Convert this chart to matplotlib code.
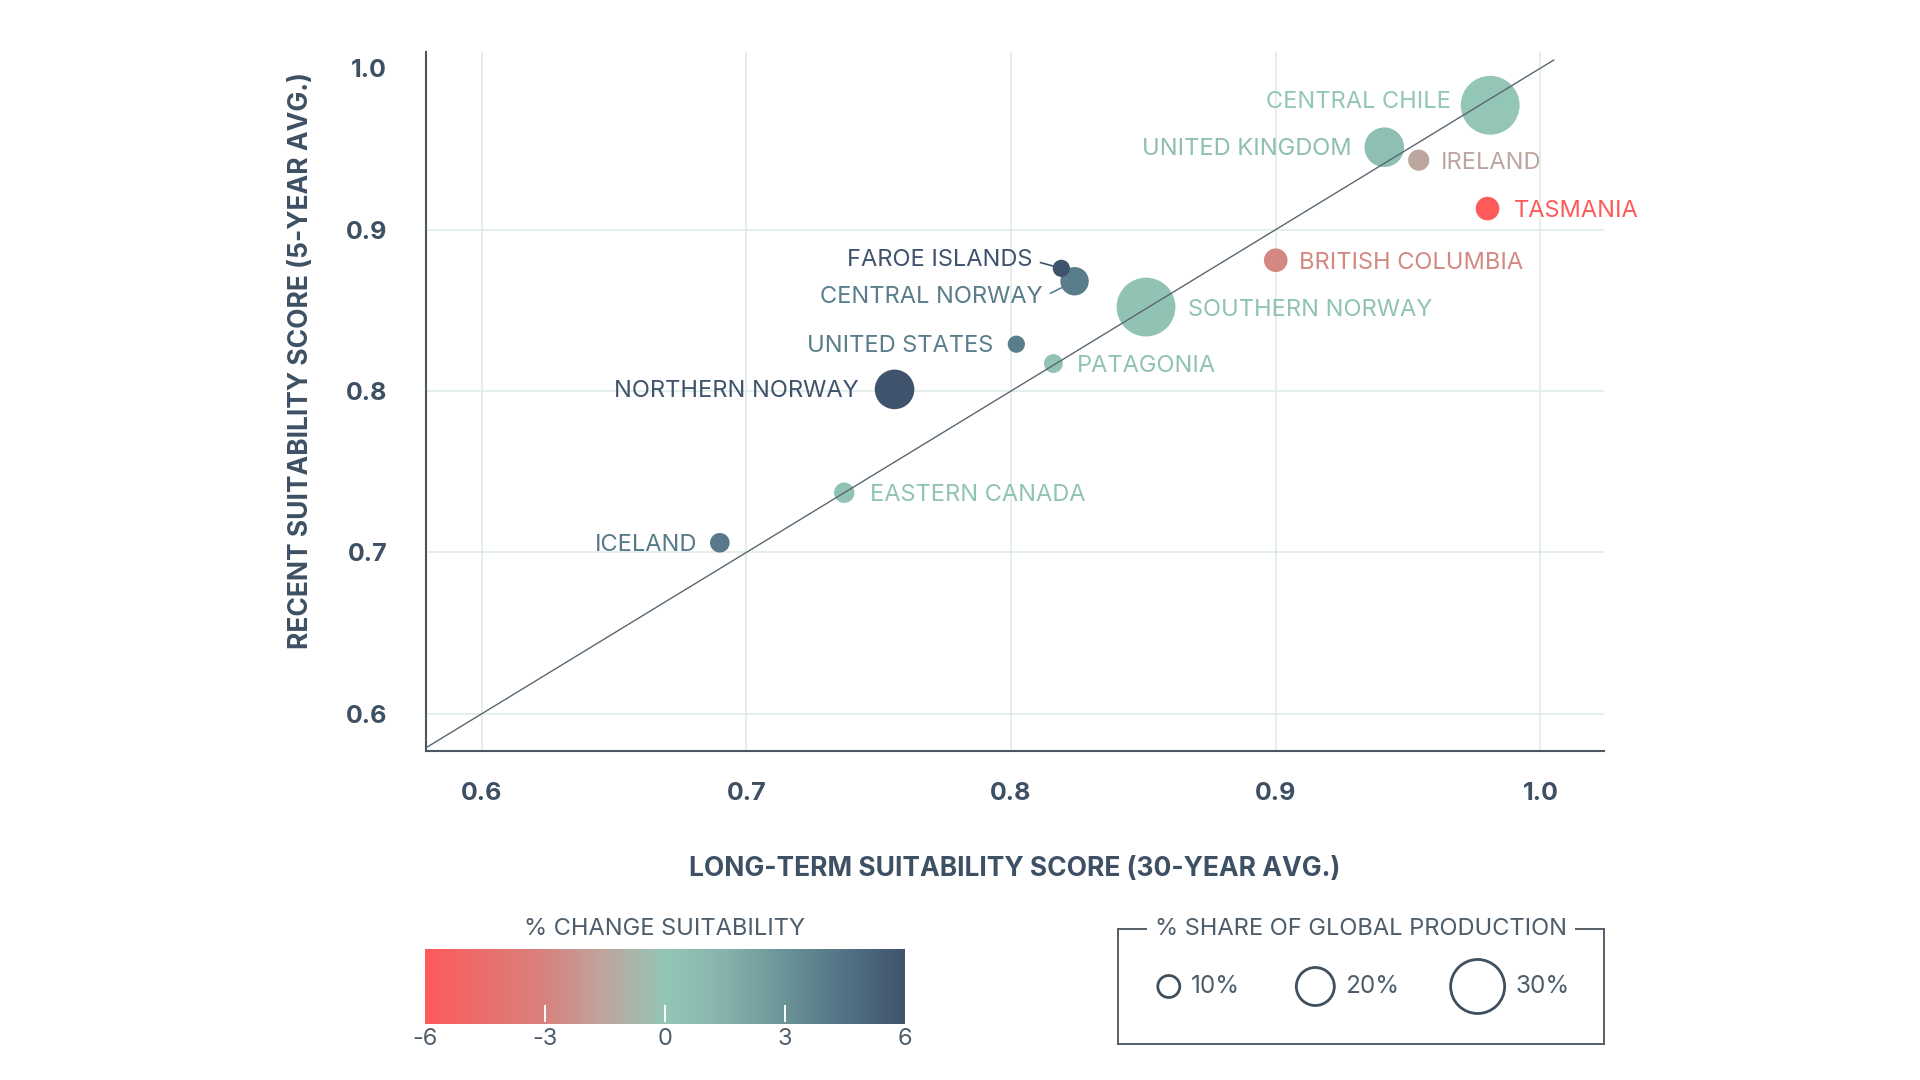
import numpy as np
import matplotlib.pyplot as plt
from matplotlib.colors import LinearSegmentedColormap, Normalize

plt.rcParams['font.family'] = ['Inter', 'DejaVu Sans']

# ---- data ----
regions = ["CENTRAL CHILE", "UNITED KINGDOM", "IRELAND", "TASMANIA", "BRITISH COLUMBIA",
           "SOUTHERN NORWAY", "CENTRAL NORWAY", "FAROE ISLANDS", "UNITED STATES",
           "PATAGONIA", "NORTHERN NORWAY", "EASTERN CANADA", "ICELAND"]
long_term = [0.981, 0.941, 0.954, 0.980, 0.900, 0.851, 0.824, 0.819, 0.802,
             0.816, 0.756, 0.737, 0.690]
recent = [0.977, 0.951, 0.943, 0.913, 0.881, 0.852, 0.868, 0.876, 0.829,
          0.817, 0.801, 0.737, 0.706]
pct_change = [0.0, 0.6, -1.5, -6.0, -2.8, 0.2, 4.0, 6.0, 4.0, 0.3, 6.0, 0.2, 4.2]
share = [33, 21, 9.5, 11, 11, 33, 14, 7, 7, 8, 21, 9, 8.5]

# label offsets in pixels (dx, dy)
label_dx = [-39, -33, 22, 26, 23, 42, -32, -29, -23, 23, -36, 26, -23]
label_dy = [5, 0, -1, 0, -1, -1, -14, 10, 0, 0, 0, 0, 0]
leader = [False, False, False, False, False, False, True, True, False, False, False, False, False]

x_ticks = [0.6, 0.7, 0.8, 0.9, 1.0]
y_ticks = [0.6, 0.7, 0.8, 0.9, 1.0]
cbar_ticks = [-6, -3, 0, 3, 6]
legend_shares = [10, 20, 30]

DPI = 100
TEXT = "#3d5064"
SOFT = "#4d5d6b"

cmap = LinearSegmentedColormap.from_list(
    "suit",
    [(0.0, "#fe5a5a"), (0.25, "#d7837e"), (0.375, "#bea69e"), (0.5, "#93c6b6"),
     (0.625, "#88b2ad"), (0.75, "#6a9398"), (0.875, "#537385"), (1.0, "#3f546c")])
norm = Normalize(-6, 6)


def radius_px(s):
    return 3 + 0.8 * np.asarray(s, dtype=float)


def marker_area(s):
    return (2 * radius_px(s) * 72 / DPI) ** 2


fig = plt.figure(figsize=(19.2, 10.8), dpi=DPI)
ax = fig.add_axes([426 / 1920, 1 - 751 / 1080, 1178 / 1920, 699 / 1080])

ax.set_xlim(0.579, 1.024)
ax.set_ylim(0.577, 1.010)
ax.set_xticks(x_ticks)
ax.set_yticks(y_ticks)
ax.set_xticklabels([f"{t:.1f}" for t in x_ticks])
ax.set_yticklabels([f"{t:.1f}" for t in y_ticks])
ax.tick_params(length=0, labelsize=18, labelcolor=TEXT)
ax.tick_params(axis="x", pad=22)
ax.tick_params(axis="y", pad=28)
for lab in ax.get_xticklabels() + ax.get_yticklabels():
    lab.set_fontweight("bold")

ax.grid(True, color="#dce9e6", linewidth=1.1)
ax.yaxis.get_gridlines()[-1].set_visible(False)
ax.set_axisbelow(True)
for side in ["top", "right"]:
    ax.spines[side].set_visible(False)
for side in ["left", "bottom"]:
    ax.spines[side].set_color("#4b5660")
    ax.spines[side].set_linewidth(1.5)

ax.set_xlabel("LONG-TERM SUITABILITY SCORE (30-YEAR AVG.)", fontsize=19,
              fontweight="bold", color=TEXT)
ax.xaxis.set_label_coords(0.5, -0.15)
ax.set_ylabel("RECENT SUITABILITY SCORE (5-YEAR AVG.)", fontsize=19,
              fontweight="bold", color=TEXT)
ax.yaxis.set_label_coords(-0.095, 0.558)

colors = cmap(norm(pct_change))
ax.scatter(long_term, recent, s=marker_area(share), c=colors, linewidths=0, zorder=3)

# 1:1 reference line
diag = [0.577, 1.005]
ax.plot(diag, diag, color="#5a6670", linewidth=1.0, zorder=4)

for i, name in enumerate(regions):
    ha = "right" if label_dx[i] < 0 else "left"
    props = None
    if leader[i]:
        props = dict(arrowstyle="-", color=colors[i], lw=1.2, shrinkA=4,
                     shrinkB=radius_px(share[i]) * 0.72 - 2, relpos=(1, 0.5))
    ax.annotate(name, (long_term[i], recent[i]), xytext=(label_dx[i], label_dy[i] - 2),
                textcoords="offset pixels", ha=ha, va="center", fontsize=17,
                color=colors[i], arrowprops=props, zorder=5)

# ---- colour bar ----
cax = fig.add_axes([425 / 1920, 1 - 1024 / 1080, 480 / 1920, 75 / 1080])
grad = np.linspace(-6, 6, 512).reshape(1, -1)
cax.imshow(grad, aspect="auto", cmap=cmap, norm=norm, extent=(-6, 6, 0, 1))
cax.set_xlim(-6, 6)
cax.set_ylim(0, 1)
cax.set_yticks([])
cax.set_xticks(cbar_ticks)
cax.set_xticklabels([str(t) for t in cbar_ticks])
cax.tick_params(length=0, labelsize=17, labelcolor=SOFT, pad=3)
for sp in cax.spines.values():
    sp.set_visible(False)
for t in cbar_ticks[1:-1]:
    cax.plot([t, t], [0.04, 0.24], color="white", linewidth=1.4)
cax.set_title("% CHANGE SUITABILITY", fontsize=17, color=SOFT, pad=10)

# ---- size legend ----
lax = fig.add_axes([1118 / 1920, 1 - 1044 / 1080, 486 / 1920, 115 / 1080])
lax.set_xlim(0, 1)
lax.set_ylim(0, 1)
lax.set_xticks([])
lax.set_yticks([])
for sp in lax.spines.values():
    sp.set_color("#555f68")
    sp.set_linewidth(1.4)
leg_x = [0.1045, 0.406, 0.740]
for xp, s in zip(leg_x, legend_shares):
    lax.scatter([xp], [0.5], s=marker_area(s), facecolors="none",
                edgecolors="#3f4f5e", linewidths=2.0)
    lax.annotate(f"{s}%", (xp, 0.5), xytext=(radius_px(s) + 11, 0),
                 textcoords="offset pixels", ha="left", va="center",
                 fontsize=17.5, color=SOFT)
lax.text(0.5, 1.0, "% SHARE OF GLOBAL PRODUCTION", transform=lax.transAxes,
         ha="center", va="center", fontsize=17, color=SOFT,
         bbox=dict(facecolor="white", edgecolor="none", pad=6))

fig.savefig("out.png", dpi=DPI, facecolor="white")
